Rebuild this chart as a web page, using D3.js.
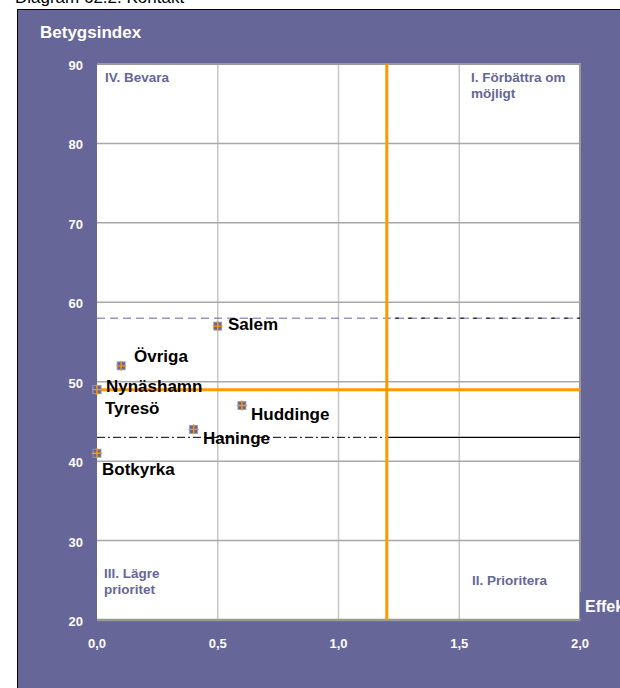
<!DOCTYPE html>
<html><head><meta charset="utf-8">
<script src="https://cdn.jsdelivr.net/npm/d3@7"></script>
<style>body{margin:0;background:#fff;} svg{display:block;font-family:Arial,"Liberation Sans",sans-serif;}</style>
</head><body>
<svg id="c" width="620" height="688"></svg>
<script>
const names = ["Salem","Övriga","Nynäshamn","Tyresö","Huddinge","Haninge","Botkyrka"];
const effekt = [0.5, 0.1, 0.0, 0.0, 0.6, 0.4, 0.0];
const betyg = [57, 52, 49, 49, 47, 44, 41];
const xTicks = [0, 0.5, 1.0, 1.5, 2.0];
const yTicks = [20, 30, 40, 50, 60, 70, 80, 90];
const quadrants = [["IV. Bevara"],["I. Förbättra om","möjligt"],["III. Lägre","prioritet"],["II. Prioritera"]];
const refX = 1.2, refY = 49, dashY = 58, dashDotY = 43;

const svg = d3.select("#c");
const purple = "#666699", orange = "#FF9900";
svg.append("text").attr("x",15).attr("y",3).attr("font-size",17).attr("fill","#000").text("Diagram 62.2. Kontakt");
svg.append("rect").attr("x",17.5).attr("y",9.5).attr("width",620).attr("height",700).attr("fill",purple).attr("stroke","#000");

const x = d3.scaleLinear().domain([0,2]).range([97,580]);
const y = d3.scaleLinear().domain([20,90]).range([620,64]);

svg.append("rect").attr("x",x(0)).attr("y",y(90)).attr("width",x(2)-x(0)).attr("height",y(20)-y(90)).attr("fill","#fff");

// grid
svg.append("g").selectAll("line").data(xTicks.slice(1,-1)).join("line")
  .attr("x1",d=>x(d)).attr("x2",d=>x(d)).attr("y1",y(90)).attr("y2",y(20)).attr("stroke","#c8c8c8").attr("stroke-width",1.5);
svg.append("g").selectAll("line").data(yTicks.slice(1,-1)).join("line")
  .attr("x1",x(0)).attr("x2",x(2)).attr("y1",d=>y(d)).attr("y2",d=>y(d)).attr("stroke","#a8a8a8").attr("stroke-width",1.5);
// frame
svg.append("path").attr("d",`M${x(0)},${y(90)}H${x(2)}V${y(20)}`).attr("fill","none").attr("stroke","#999").attr("stroke-width",2);
svg.append("line").attr("x1",x(0)).attr("x2",x(2)).attr("y1",y(20)).attr("y2",y(20)).attr("stroke","#999").attr("stroke-width",2.5);

// reference lines
svg.append("line").attr("x1",x(0)).attr("x2",x(2)).attr("y1",y(dashY)).attr("y2",y(dashY)).attr("stroke",purple).attr("stroke-width",1).attr("stroke-dasharray","8,5");
svg.append("line").attr("x1",x(refX)).attr("x2",x(2)).attr("y1",y(dashY)).attr("y2",y(dashY)).attr("stroke","#000").attr("stroke-width",1).attr("stroke-dasharray","4,9").attr("stroke-dashoffset",-8);
svg.append("line").attr("x1",x(0)).attr("x2",x(refX)).attr("y1",y(dashDotY)).attr("y2",y(dashDotY)).attr("stroke","#000").attr("stroke-width",1).attr("stroke-dasharray","8,3,2,3");
svg.append("line").attr("x1",x(refX)).attr("x2",x(2)).attr("y1",y(dashDotY)).attr("y2",y(dashDotY)).attr("stroke","#000").attr("stroke-width",1.2);
svg.append("line").attr("x1",x(0)).attr("x2",x(2)).attr("y1",y(refY)).attr("y2",y(refY)).attr("stroke",orange).attr("stroke-width",3);
svg.append("line").attr("x1",x(refX)).attr("x2",x(refX)).attr("y1",y(90)).attr("y2",y(20)).attr("stroke",orange).attr("stroke-width",3);

// axis tick labels
svg.append("g").selectAll("text").data(yTicks).join("text")
  .attr("x",83).attr("y",d=>y(d)+6).attr("text-anchor","end").attr("fill","#fff").attr("font-size",13).attr("font-weight","bold").text(d=>d);
svg.append("g").selectAll("text").data(xTicks).join("text")
  .attr("x",d=>x(d)).attr("y",648).attr("text-anchor","middle").attr("fill","#fff").attr("font-size",13).attr("font-weight","bold").text(d=>d3.format(".1f")(d).replace(".",","));

svg.append("text").attr("x",40).attr("y",38).attr("fill","#fff").attr("font-size",17).attr("font-weight","bold").text("Betygsindex");
svg.append("rect").attr("x",580).attr("y",592).attr("width",50).attr("height",27).attr("fill",purple);
svg.append("text").attr("x",585).attr("y",612).attr("fill","#fff").attr("font-size",16).attr("font-weight","bold").text("Effekt");

// quadrant labels
const qpos = [[105,82],[471,82],[104,578],[472,585]];
quadrants.forEach((lines,i)=>{
  const t = svg.append("text").attr("x",qpos[i][0]).attr("y",qpos[i][1]).attr("fill",purple).attr("font-size",13.5).attr("font-weight","bold");
  lines.forEach((l,j)=>t.append("tspan").attr("x",qpos[i][0]).attr("dy",j?16:0).text(l));
});

// points
const pts = names.map((n,i)=>({n, x:effekt[i], y:betyg[i]}));
const g = svg.append("g");
pts.forEach(p=>{
  const cx = x(p.x), cy = y(p.y);
  g.append("rect").attr("x",cx-4).attr("y",cy-4).attr("width",8).attr("height",8).attr("fill",purple).attr("stroke","#9999bb").attr("stroke-width",0.8);
  g.append("path").attr("d",`M${cx-5},${cy}H${cx+5}M${cx},${cy-5}V${cy+5}`).attr("stroke",orange).attr("stroke-width",1.4);
});
// labels
const lpos = {"Salem":[228,330],"Övriga":[134,362],"Nynäshamn":[106,392],"Tyresö":[105,414],"Huddinge":[251,420],"Haninge":[203,444],"Botkyrka":[102,475]};
svg.append("g").selectAll("text").data(pts).join("text")
  .attr("x",d=>lpos[d.n][0]).attr("y",d=>lpos[d.n][1]).attr("font-size",17).attr("font-weight","bold").attr("fill","#000").text(d=>d.n);
</script>
</body></html>
